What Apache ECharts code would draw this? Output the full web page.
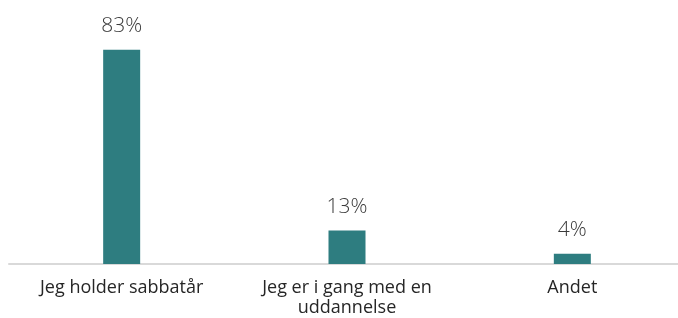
<!DOCTYPE html>
<html><head><meta charset="utf-8">
<script src="https://cdn.jsdelivr.net/npm/echarts@6/dist/echarts.min.js"></script>
<style>html,body{margin:0;padding:0;background:#fff}#c{width:678px;height:318px}</style>
</head><body><div id="c"></div>
<script>
const categories = ["Jeg holder sabbatår", "Jeg er i gang med en\nuddannelse", "Andet"];
const values = [83, 13, 4];
const chart = echarts.init(document.getElementById('c'), null, {renderer: 'canvas'});
chart.setOption({
  animation: false,
  grid: {left: 9, right: -7, top: 6, bottom: 54, containLabel: false, outerBoundsMode: 'none'},
  xAxis: {
    type: 'category', data: categories,
    axisLine: {lineStyle: {color: '#d9d9d9', width: 2}},
    axisTick: {show: false},
    axisLabel: {color: '#262626', fontFamily: 'Open Sans', fontSize: 18, margin: 14, lineHeight: 20, interval: 0}
  },
  yAxis: {type: 'value', min: 0, max: 100, show: false, splitLine: {show: false}},
  series: [{
    type: 'bar', data: values, barWidth: 37,
    itemStyle: {color: '#2e7d80'},
    label: {show: true, position: 'top', distance: 13, formatter: '{c}%', color: '#3a3a3a', fontFamily: 'Open Sans', fontWeight: 300, fontSize: 21}
  }]
});
</script></body></html>
